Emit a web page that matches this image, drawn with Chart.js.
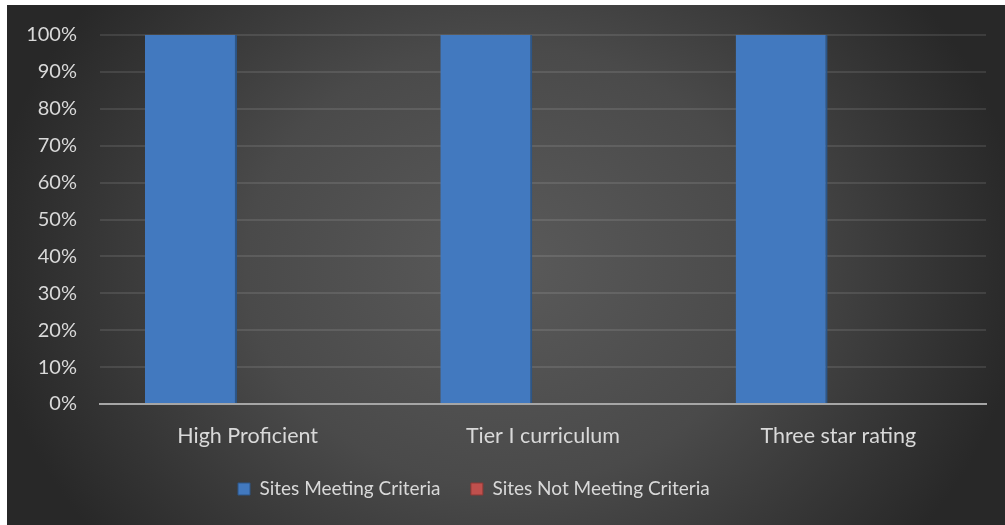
<!DOCTYPE html>
<html>
<head>
<meta charset="utf-8">
<script src="https://cdn.jsdelivr.net/npm/chart.js@4.4.1/dist/chart.umd.min.js"></script>
<style>
  html, body { margin: 0; padding: 0; background: #ffffff; }
  #wrap { position: absolute; left: 7px; top: 5px; width: 998px; height: 520px; }
</style>
</head>
<body>
<div id="wrap"><canvas id="c" width="998" height="520"></canvas></div>
<script>
const categories = ["High Proficient", "Tier I curriculum", "Three star rating"];
const seriesNames = ["Sites Meeting Criteria", "Sites Not Meeting Criteria"];
const meetingValues = [100, 100, 100];
const notMeetingValues = [0, 0, 0];
const yTickStep = 10;
const yMax = 100;

const textColor = '#d9d9d9';
const fontFamily = 'Lato, "Open Sans", sans-serif';

const bgPlugin = {
  id: 'bgPlugin',
  beforeDraw(chart) {
    const ctx = chart.ctx;
    const w = chart.width, h = chart.height;
    const cx = 499, cy = 260, rx = 520, s = 440 / 520;
    ctx.save();
    ctx.translate(cx, cy);
    ctx.scale(1, s);
    const g = ctx.createRadialGradient(0, 0, 0, 0, 0, rx);
    g.addColorStop(0, '#5a5a5a');
    g.addColorStop(0.5, '#4a4a4a');
    g.addColorStop(1, '#282828');
    ctx.fillStyle = g;
    ctx.fillRect(-cx, -cy / s, w, h / s);
    ctx.restore();
  }
};

// shift the legend block slightly left, as in the reference
const legendShift = {
  id: 'legendShift',
  afterLayout(chart) {
    if (chart.legend) {
      chart.legend.left -= 22.6;
      chart.legend.right -= 22.6;
    }
  }
};

new Chart(document.getElementById('c'), {
  type: 'bar',
  data: {
    labels: categories,
    datasets: [
      {
        label: seriesNames[0],
        data: meetingValues,
        backgroundColor: '#4279bf',
        borderColor: '#2c5688',
        borderWidth: { left: 0, right: 2, top: 0, bottom: 0 },
        borderSkipped: false
      },
      {
        label: seriesNames[1],
        data: notMeetingValues,
        backgroundColor: '#c0504d',
        borderColor: '#8c3836',
        borderWidth: 0
      }
    ]
  },
  options: {
    responsive: false,
    animation: false,
    devicePixelRatio: 1,
    categoryPercentage: 0.768,
    barPercentage: 0.811,
    layout: { padding: { left: 0, right: 19, top: 30, bottom: 16.5 } },
    plugins: {
      legend: {
        position: 'bottom',
        labels: {
          color: textColor,
          font: { family: fontFamily, size: 19 },
          boxWidth: 12,
          boxHeight: 12,
          padding: 30.5,
          generateLabels(chart) {
            return chart.data.datasets.map((ds, i) => ({
              text: ds.label,
              fillStyle: ds.backgroundColor,
              strokeStyle: ds.borderColor,
              lineWidth: 1,
              fontColor: textColor,
              datasetIndex: i,
              hidden: false
            }));
          }
        }
      },
      tooltip: { enabled: false }
    },
    scales: {
      x: {
        grid: { display: false, drawTicks: false },
        border: { display: true, color: '#a6a6a6', width: 2 },
        ticks: { color: textColor, font: { family: fontFamily, size: 21.5 }, padding: 19 },
        afterFit(s) { s.height = 45; }
      },
      y: {
        min: 0,
        max: yMax,
        grid: {
          color: 'rgba(255,255,255,0.1)',
          lineWidth: 2,
          drawTicks: true,
          tickLength: 23,
          tickColor: 'rgba(0,0,0,0)'
        },
        border: { display: false },
        ticks: {
          stepSize: yTickStep,
          color: textColor,
          font: { family: fontFamily, size: 20 },
          padding: 0,
          callback: v => v + '%'
        },
        afterFit(s) { s.width = 93; }
      }
    }
  },
  plugins: [bgPlugin, legendShift]
});
</script>
</body>
</html>
